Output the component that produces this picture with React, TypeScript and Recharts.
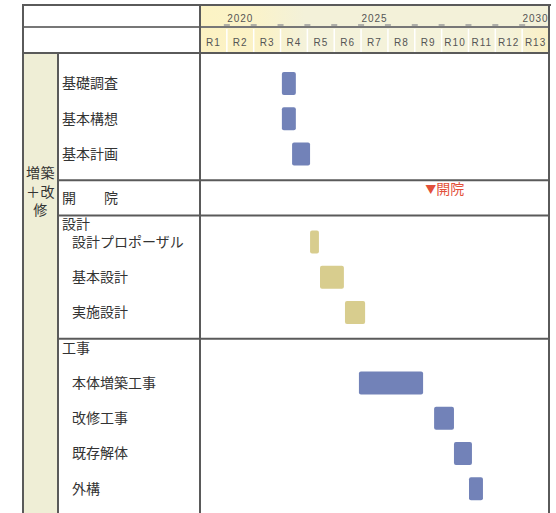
import React from 'react';
import { BarChart, Bar, XAxis, YAxis, Cell, ReferenceDot, Rectangle } from 'recharts';

// fiscal years (Reiwa) shown in the second header row
const fiscalYears = ['R1', 'R2', 'R3', 'R4', 'R5', 'R6', 'R7', 'R8', 'R9', 'R10', 'R11', 'R12', 'R13'];
// calendar years written above some fiscal columns
const yearLabels = ['2020', '2025', '2030'];
const yearColumn = [1, 6, 12];

// tasks, in years counted from the start of R1
const taskNames = ['基礎調査', '基本構想', '基本計画', '設計プロポーザル', '基本設計', '実施設計', '本体増築工事', '改修工事', '既存解体', '外構'];
const taskStart = [3.05, 3.05, 3.43, 4.1, 4.47, 5.4, 5.92, 8.72, 9.46, 10.02];
const taskEnd = [3.57, 3.57, 4.1, 4.43, 5.36, 6.15, 8.31, 9.46, 10.13, 10.54];
const taskPhase = ['plan', 'plan', 'plan', 'design', 'design', 'design', 'build', 'build', 'build', 'build'];
const taskSlot = [1, 3, 5, 10, 12, 14, 18, 20, 22, 24];

// section headings of the table
const groupNames = ['開　　院', '設計', '工事'];
const groupSlot = [7, 9, 16];

const openingYear = 8.58;
const openingLabel = '開院';
const sideLabel = ['増築', '＋改', '修'];
const SLOTS = 26;

// layout
const W = 556;
const H = 517;
const FRAME_L = 23;
const FRAME_R = 549;
const FRAME_T = 5;
const HEAD1 = 27;
const HEAD2 = 53;
const SIDE_R = 58;
const PLOT_L = 200;
const PAD_TOP = 4;
const BAR_H = 23;
const MARGIN = { top: HEAD1, right: W - FRAME_R, bottom: 2, left: 0 };
const ROW_H = (H - MARGIN.top - MARGIN.bottom - (HEAD2 - HEAD1) - PAD_TOP) / SLOTS;
const COL_W = (FRAME_R - PLOT_L) / fiscalYears.length;

const JP = '"Noto Sans CJK JP", sans-serif';
const LATIN = '"Liberation Sans", Arial, sans-serif';
const LINE = '#5a5a5a';
const BLUE = '#7282b8';
const TAN = '#d8cd8e';

type Row = {
  id: string;
  label?: string;
  indent: boolean;
  section: boolean;
  milestone: boolean;
  span?: [number, number];
  phase?: string;
};

const rows: Row[] = Array.from({ length: SLOTS }, (_, i) => ({
  id: `s${i}`,
  indent: false,
  section: false,
  milestone: false,
}));
taskNames.forEach((name, i) => {
  const r = rows[taskSlot[i]];
  r.label = name;
  r.span = [taskStart[i], taskEnd[i]];
  r.phase = taskPhase[i];
  r.indent = taskSlot[i] > groupSlot[1];
});
groupNames.forEach((name, i) => {
  const r = rows[groupSlot[i]];
  r.label = name;
  r.section = true;
  r.milestone = i === 0;
});

const RowTick = (props: any) => {
  const { y, payload } = props;
  const row = rows[payload.index];
  if (!row) return null;
  return (
    <g>
      {row.section && (
        <line x1={SIDE_R} x2={FRAME_R} y1={y - ROW_H / 2} y2={y - ROW_H / 2} stroke={LINE} strokeWidth={2} />
      )}
      {row.label && (
        <text
          x={row.indent ? 72 : 62}
          y={row.milestone ? y + ROW_H / 2 : y}
          dy="0.36em"
          fontSize={14}
          fill="#333"
          fontFamily={JP}
        >
          {row.label}
        </text>
      )}
    </g>
  );
};

const FiscalTick = (props: any) => {
  const { x, y, payload } = props;
  const i = Math.floor(payload.value);
  const left = x - COL_W / 2;
  const yi = yearColumn.indexOf(i);
  return (
    <g>
      {i > 0 && <line x1={left} x2={left} y1={HEAD1 + 2} y2={HEAD2} stroke="#fff" strokeWidth={1.5} />}
      {i > 0 && <line x1={left - 3} x2={left + 3} y1={HEAD1 - 2} y2={HEAD1 - 2} stroke="#999" strokeWidth={1.5} />}
      <text x={x} y={y + 1} textAnchor="middle" fontSize={10} letterSpacing={1} fill="#555" fontFamily={LATIN}>
        {fiscalYears[i]}
      </text>
      {yi >= 0 && (
        <text x={x} y={y + 3 - (HEAD2 - HEAD1)} textAnchor="middle" fontSize={10} letterSpacing={1} fill="#555" fontFamily={LATIN}>
          {yearLabels[yi]}
        </text>
      )}
    </g>
  );
};

const TaskBar = (props: any) => {
  const { y, height } = props;
  return <Rectangle {...props} y={y + height / 2 - BAR_H / 2} height={BAR_H} />;
};

const OpeningMark = (props: any) => {
  const { cx, cy } = props;
  return (
    <text x={cx - 5} y={cy} dy="0.36em" fill="#e2503a" fontFamily={JP} fontSize={14}>
      <tspan fontSize={11}>▼</tspan>
      <tspan>{openingLabel}</tspan>
    </text>
  );
};

const box = (left: number, top: number, width: number, height: number, background: string): React.CSSProperties => ({
  position: 'absolute',
  left,
  top,
  width,
  height,
  background,
});

export default function App() {
  return (
    <div style={{ position: 'absolute', left: 0, top: 0, width: W, height: 513, overflow: 'hidden', background: '#fff' }}>
      {/* header backgrounds and side column */}
      <div style={box(PLOT_L, FRAME_T, FRAME_R - PLOT_L, HEAD1 - FRAME_T, 'linear-gradient(to right, #fcf3c4 0%, #fbf3c8 14%, #f3f1d9 30%, #f3f1d9 100%)')} />
      <div style={box(PLOT_L, HEAD1, FRAME_R - PLOT_L, HEAD2 - HEAD1, 'linear-gradient(to right, #fcf2c3 0%, #fbf2c6 18%, #f4f2da 30%, #f4f2da 88%, #faf0c4 100%)')} />
      <div style={box(FRAME_L, HEAD2, SIDE_R - FRAME_L, 513 - HEAD2, '#efeed6')} />

      <div
        style={{
          position: 'absolute',
          left: FRAME_L,
          top: 163,
          width: SIDE_R - FRAME_L,
          textAlign: 'center',
          fontFamily: JP,
          fontSize: 14,
          lineHeight: '18.5px',
          letterSpacing: 0.5,
          color: '#333',
        }}
      >
        {sideLabel.map((s) => (
          <div key={s}>{s}</div>
        ))}
      </div>

      <div style={{ position: 'absolute', left: 0, top: 0 }}>
        <BarChart layout="vertical" width={W} height={H} data={rows} margin={MARGIN} barSize={BAR_H}>
          <XAxis
            xAxisId="r"
            orientation="top"
            type="number"
            domain={[0, fiscalYears.length]}
            ticks={fiscalYears.map((_, i) => i + 0.5)}
            interval={0}
            height={HEAD2 - HEAD1}
            tick={<FiscalTick />}
            tickLine={false}
            axisLine={false}
          />
          <YAxis
            type="category"
            dataKey="id"
            width={PLOT_L}
            interval={0}
            padding={{ top: PAD_TOP, bottom: 0 }}
            tick={<RowTick />}
            tickLine={false}
            axisLine={false}
          />
          <Bar dataKey="span" xAxisId="r" radius={2} shape={<TaskBar />} isAnimationActive={false}>
            {rows.map((r) => (
              <Cell key={r.id} fill={r.phase === 'design' ? TAN : BLUE} />
            ))}
          </Bar>
          <ReferenceDot
            xAxisId="r"
            x={openingYear}
            y={rows[groupSlot[0]].id}
            r={0}
            ifOverflow="visible"
            shape={<OpeningMark />}
          />
        </BarChart>
      </div>

      {/* table frame */}
      <div style={box(FRAME_L, FRAME_T - 1, FRAME_R - FRAME_L + 2, 2, LINE)} />
      <div style={box(FRAME_L, HEAD1 - 1, FRAME_R - FRAME_L, 1.5, '#777')} />
      <div style={box(FRAME_L, HEAD2 - 1, FRAME_R - FRAME_L, 2, LINE)} />
      <div style={box(FRAME_L - 1, FRAME_T - 1, 2, 513, LINE)} />
      <div style={box(FRAME_R - 1, FRAME_T - 1, 2, 513, LINE)} />
      <div style={box(PLOT_L - 1, FRAME_T - 1, 2, 513, LINE)} />
      <div style={box(SIDE_R - 1, HEAD2, 2, 513, LINE)} />
    </div>
  );
}
